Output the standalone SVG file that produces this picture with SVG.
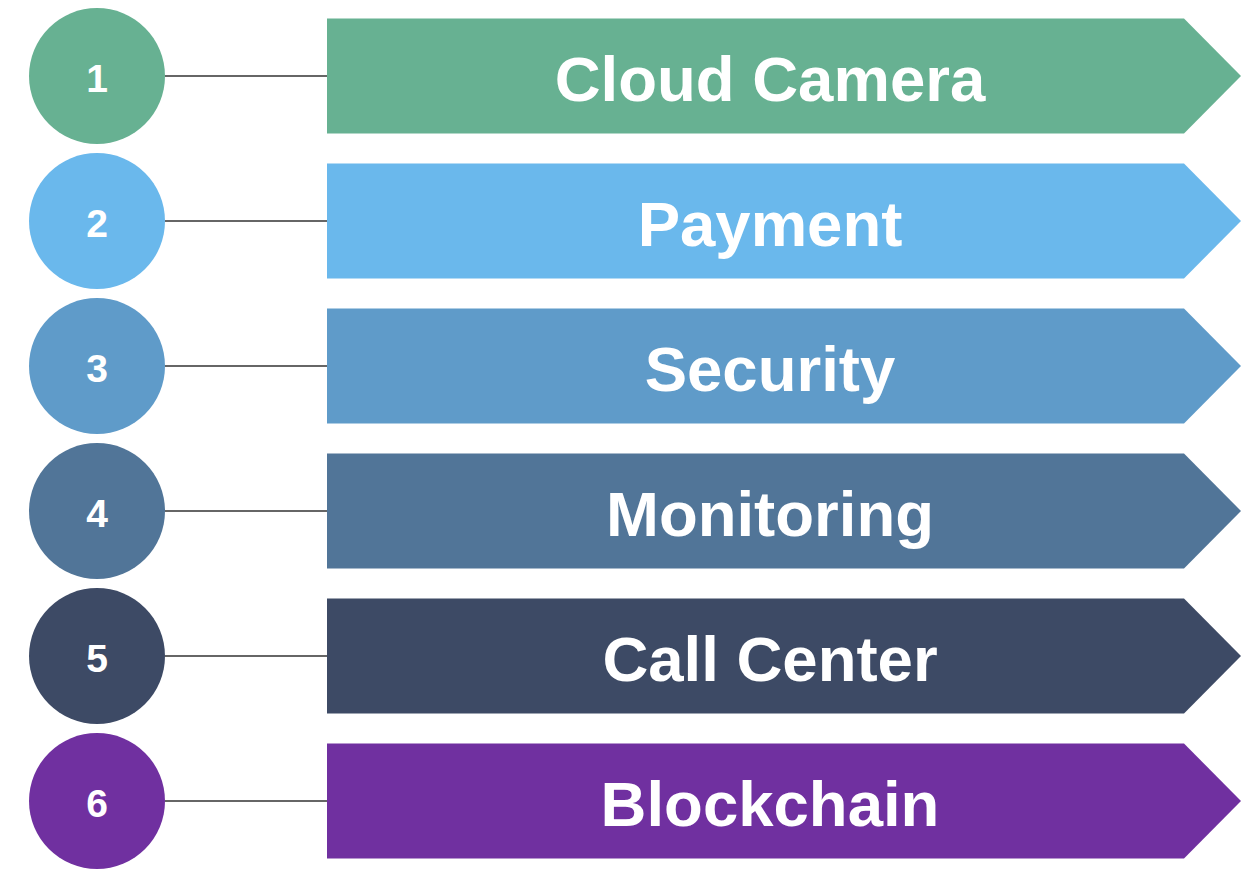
<svg xmlns="http://www.w3.org/2000/svg" width="1256" height="869" viewBox="0 0 1256 869">
<style>
.lbl{font-family:"Liberation Sans",Arial,sans-serif;font-weight:bold;fill:#fff;text-anchor:middle}
.big{font-size:63.5px}
.num{font-size:39px}
.conn line{stroke:#666;stroke-width:2}
</style>
<defs>
<polygon id="arrow" points="327,-57.5 1184,-57.5 1241,0 1184,57.5 327,57.5"/>
</defs>
<rect width="1256" height="869" fill="#fff"/>
<g class="conn">
<line x1="165" y1="76" x2="327" y2="76"/>
<line x1="165" y1="221" x2="327" y2="221"/>
<line x1="165" y1="366" x2="327" y2="366"/>
<line x1="165" y1="511" x2="327" y2="511"/>
<line x1="165" y1="656" x2="327" y2="656"/>
<line x1="165" y1="801" x2="327" y2="801"/>
</g>
<g id="node1" transform="translate(0,76)" fill="#67B192">
<circle cx="97" cy="0" r="68"/><text class="lbl num" x="97" y="15.5">1</text>
<use href="#arrow"/><text class="lbl big" x="770" y="24.5">Cloud Camera</text>
</g>
<g id="node2" transform="translate(0,221)" fill="#6AB8EC">
<circle cx="97" cy="0" r="68"/><text class="lbl num" x="97" y="15.5">2</text>
<use href="#arrow"/><text class="lbl big" x="770" y="24.5">Payment</text>
</g>
<g id="node3" transform="translate(0,366)" fill="#5F9BC9">
<circle cx="97" cy="0" r="68"/><text class="lbl num" x="97" y="15.5">3</text>
<use href="#arrow"/><text class="lbl big" x="770" y="24.5">Security</text>
</g>
<g id="node4" transform="translate(0,511)" fill="#517598">
<circle cx="97" cy="0" r="68"/><text class="lbl num" x="97" y="15.5">4</text>
<use href="#arrow"/><text class="lbl big" x="770" y="24.5">Monitoring</text>
</g>
<g id="node5" transform="translate(0,656)" fill="#3D4A65">
<circle cx="97" cy="0" r="68"/><text class="lbl num" x="97" y="15.5">5</text>
<use href="#arrow"/><text class="lbl big" x="770" y="24.5">Call Center</text>
</g>
<g id="node6" transform="translate(0,801)" fill="#7030A0">
<circle cx="97" cy="0" r="68"/><text class="lbl num" x="97" y="15.5">6</text>
<use href="#arrow"/><text class="lbl big" x="770" y="24.5">Blockchain</text>
</g>
</svg>
